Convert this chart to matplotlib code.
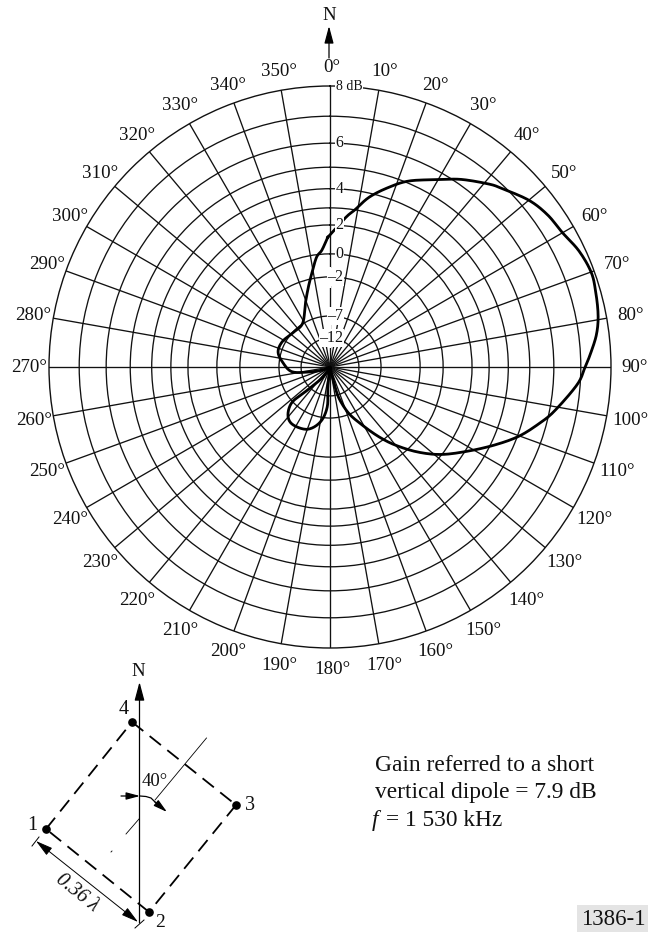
import numpy as np
import matplotlib
matplotlib.use('Agg')
import matplotlib.pyplot as plt

plt.rcParams['font.family'] = ['Liberation Serif', 'DejaVu Serif']

# Radiation pattern: azimuth (degrees) and gain (dB), in drawing order
azimuth = [359, 6, 9, 13, 18, 23, 30, 35, 41, 44, 50, 55, 60, 65, 70, 74, 79, 83, 87, 90, 94, 101,
           105, 110, 115, 121, 128, 134, 140, 145, 151, 158, 164, 166, 169, 175,
           186, 184, 190, 200, 213, 221, 227, 225, 216, 220,
           247, 257, 263, 275, 286, 298, 313, 328, 339, 345, 349, 353, 356, 359]
gain_db = [1.2, 2.5, 3.0, 3.8, 4.5, 5.1, 5.7, 6.2, 6.7, 6.9, 7.3, 7.5, 7.6, 7.8, 7.9, 7.85, 7.75, 7.6, 7.35, 7.15, 6.9, 6.2,
           5.73, 5.08, 4.25, 3.2, 2.0, 0.7, -0.9, -2.5, -4.7, -7.2, -11.0, -16.9, -27.3, -45,
           -15.2, -9.1, -6.2, -4.7, -4.4, -5.0, -6.8, -10.2, -18.6, -45,
           -23.7, -14.2, -9.5, -7.7, -6.5, -6.5, -7.1, -6.9, -4.4, -2.7, -1.5, -0.2, 0.3, 1.2]

ring_db = [7, 6, 5, 4, 3, 2, 0, -2, -7, -12]
ring_labels = [('6', 6), ('4', 4), ('2', 2), ('0', 0), ('\u20132', -2), ('\u20137', -7), ('\u201312', -12)]
spoke_deg = np.arange(0, 360, 10)
LOG_BASE = 0.8925
TOP_DB = 8


def radius(db):
    return LOG_BASE ** (TOP_DB - np.asarray(db, dtype=float))


def smooth_polar(theta, r, n=12):
    """Catmull-Rom through the read points, returned as polar coordinates."""
    x, y = r * np.sin(theta), r * np.cos(theta)
    P = np.column_stack([x, y])
    P = np.vstack([P[0], P, P[-1]])
    out = []
    for i in range(1, len(P) - 2):
        p0, p1, p2, p3 = P[i - 1], P[i], P[i + 1], P[i + 2]
        for u in np.linspace(0, 1, n, endpoint=False):
            out.append(0.5 * (2 * p1 + (p2 - p0) * u + (2 * p0 - 5 * p1 + 4 * p2 - p3) * u ** 2
                              + (3 * p1 - p0 - 3 * p2 + p3) * u ** 3))
    out.append(P[-2])
    out = np.array(out)
    return np.arctan2(out[:, 0], out[:, 1]), np.hypot(out[:, 0], out[:, 1])


W, H = 648, 932
CX, CY, R = 330, 367, 281
INK = '#111111'

fig = plt.figure(figsize=(W / 100, H / 100), dpi=100, facecolor='white')
ax = fig.add_axes([(CX - R) / W, (H - CY - R) / H, 2 * R / W, 2 * R / H], projection='polar')
ax.set_theta_zero_location('N')
ax.set_theta_direction(-1)
ax.set_rlim(0, 1)
ax.set_xticks(np.deg2rad(spoke_deg))
ax.set_xticklabels([])
ax.set_yticks(radius(ring_db))
ax.set_yticklabels([])
ax.grid(True, color=INK, lw=0.95, ls='-')
ax.tick_params(length=0)
ax.spines['polar'].set_linewidth(1.0)
ax.spines['polar'].set_color(INK)

th_s, r_s = smooth_polar(np.deg2rad(azimuth), radius(gain_db))
ax.plot(th_s, r_s, color='black', lw=2.0, solid_joinstyle='round', zorder=5)

# azimuth labels
for a in spoke_deg:
    t = np.deg2rad(a)
    dy = -1
    if a <= 20 or a >= 340:
        dy = -3
    elif 160 <= a <= 200:
        dy = 0
    ax.annotate(f'{a}\u00b0', xy=(t, 303 / R), xytext=(2, dy), textcoords='offset pixels',
                ha='center', va='center', fontsize=13.6, color=INK, annotation_clip=False)

# overlay in pixel coordinates for annotations
ov = fig.add_axes([0, 0, 1, 1], facecolor='none')
ov.set_xlim(0, W)
ov.set_ylim(H, 0)
ov.set_axis_off()

# gaps in the 0 degree spoke
for y0, y1 in [(267, 288), (312, 332), (338, 348)]:
    ov.plot([CX, CX], [y0, y1], color='white', lw=1.6, solid_capstyle='butt')

# ring labels
wbox = dict(facecolor='white', edgecolor='none', pad=0.6)
for lab, db in ring_labels:
    y = CY - R * radius(db)
    ov.text(343.5, y, lab, ha='right', va='center', fontsize=11.5, color=INK, bbox=wbox, zorder=6)
ov.text(336, CY - R, '8 dB', ha='left', va='center', fontsize=10, color=INK, bbox=wbox, zorder=6)

arrow = dict(arrowstyle='-|>,head_length=0.75,head_width=0.2', color='black', lw=0.9,
             shrinkA=0, shrinkB=0, mutation_scale=14)

# North arrow of the pattern
ov.annotate('', xy=(329, 26), xytext=(329, 58), arrowprops=arrow)
ov.text(329, 15, 'N', ha='center', va='center', fontsize=13.5, color=INK)

# Array diagram
p1, p2, p3, p4 = (46, 829), (149, 912), (236, 805), (132, 722)
for a_, b_ in [(p1, p4), (p4, p3), (p3, p2), (p2, p1)]:
    ov.plot([a_[0], b_[0]], [a_[1], b_[1]], color='black', lw=1.3, ls=(0, (8, 4.5)))
ov.plot(*zip(p1, p2, p3, p4), ls='none', marker='o', ms=5.2, color='black')
for lab, x, y in [('1', 32, 825), ('3', 250, 806), ('4', 124, 709)]:
    ov.text(x, y, lab, ha='center', va='center', fontsize=14.5, color=INK)
ov.text(160, 927, '2', ha='center', va='baseline', fontsize=14, color=INK)
ov.annotate('', xy=(139.5, 682), xytext=(139.5, 923), arrowprops=dict(arrow, mutation_scale=15))
ov.text(138.5, 671, 'N', ha='center', va='center', fontsize=13.5, color=INK)

# 40 degree axis (broken thin line)
ov.plot([206.5, 155], [738, 800], color='black', lw=0.6)
ov.plot([139, 126], [819, 834], color='black', lw=0.6)
ov.plot([112, 111], [851, 852], color='black', lw=0.6)

# angle arc
ov.annotate('', xy=(140, 796), xytext=(121, 796), arrowprops=dict(arrow, mutation_scale=11))
arc_x = [140, 146, 151, 155]
arc_y = [796, 796.5, 798, 802]
ov.plot(arc_x, arc_y, color='black', lw=0.9)
ov.annotate('', xy=(167, 812), xytext=(155, 802), arrowprops=dict(arrow, mutation_scale=11))
ov.text(155, 781, '40\u00b0', ha='center', va='center', fontsize=13.5, color=INK)

# dimension
ov.annotate('', xy=(138, 922), xytext=(36, 841),
            arrowprops=dict(arrow, arrowstyle='<|-|>,head_length=0.75,head_width=0.2', mutation_scale=14, lw=0.7))
ov.plot([32, 39], [846, 837], color='black', lw=0.7)
ov.plot([135, 144], [928, 920], color='black', lw=0.7)
ov.text(77, 893, '0.36 \u03bb', ha='center', va='center', rotation=-39, rotation_mode='anchor',
        fontsize=14.5, style='italic', color=INK)

# note
for txt, y in [('Gain referred to a short', 771), ('vertical dipole = 7.9 dB', 798)]:
    ov.text(375, y, txt, ha='left', va='baseline', fontsize=16.8, color=INK)
ov.text(372, 826, 'f', ha='left', va='baseline', fontsize=16.8, style='italic', color=INK)
ov.text(386, 826, '= 1 530 kHz', ha='left', va='baseline', fontsize=16.8, color=INK)

# figure number at the page edge
ov.text(581, 925, '1386-1', ha='left', va='baseline', fontsize=16.5, color=INK,
        bbox=dict(facecolor='#e4e4e4', edgecolor='none', pad=3))

fig.savefig('out.png', dpi=100, facecolor='white')
